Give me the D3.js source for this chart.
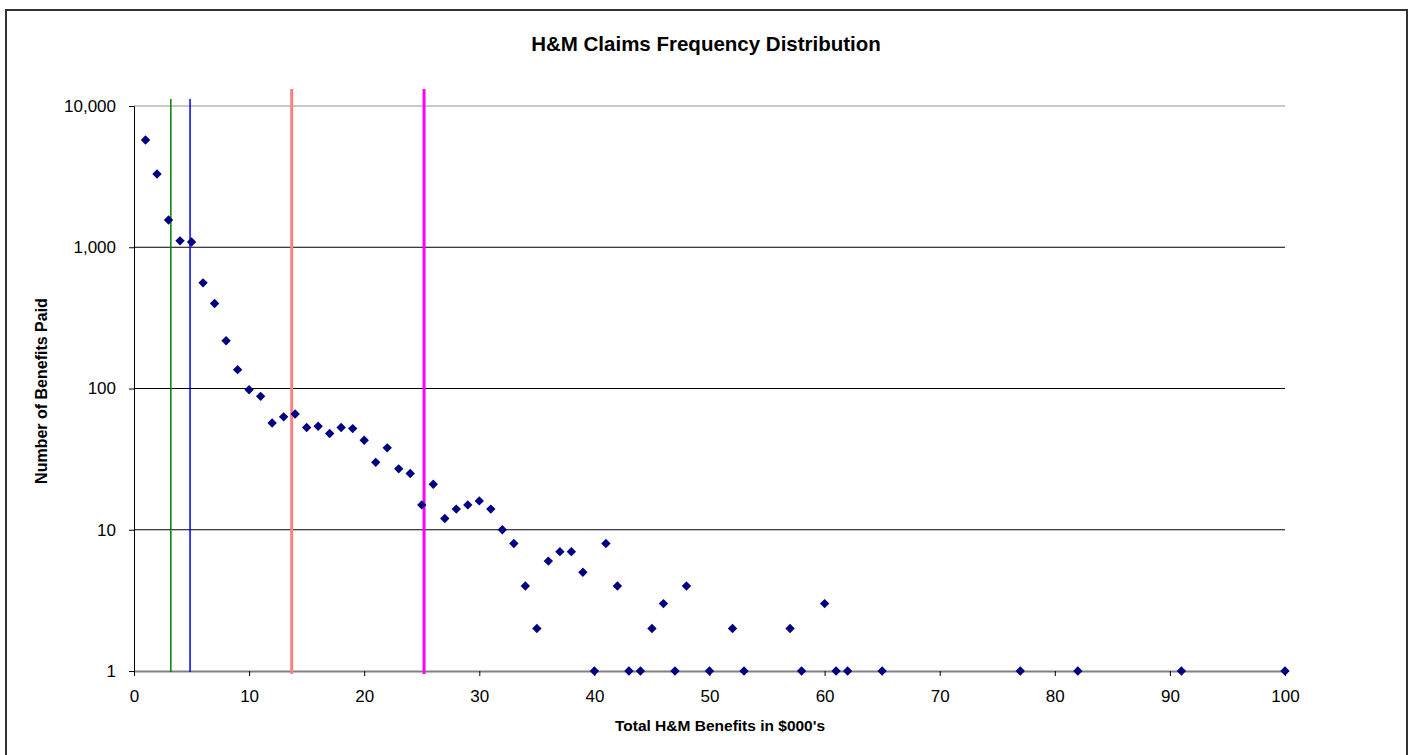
<!DOCTYPE html>
<html>
<head>
<meta charset="utf-8">
<script src="https://cdn.jsdelivr.net/npm/d3@7"></script>
<style>
  body { margin: 0; background: #fff; }
  svg text { font-family: "Liberation Sans", Arial, sans-serif; }
</style>
</head>
<body>
<div id="chart"></div>
<script>
// benefit band ($000's) and number of benefits paid
const benefitK = [1, 2, 3, 4, 5, 6, 7, 8, 9, 10,
    11, 12, 13, 14, 15, 16, 17, 18, 19, 20,
    21, 22, 23, 24, 25, 26, 27, 28, 29, 30,
    31, 32, 33, 34, 35, 36, 37, 38, 39, 40,
    41, 42, 43, 44, 45, 46, 47, 48, 50, 52,
    53, 57, 58, 60, 61, 62, 65, 77, 82, 91, 100];
const claimCounts = [5750, 3300, 1560, 1110, 1090, 560, 400, 218, 136, 98,
    88, 57, 63, 66, 53, 54, 48, 53, 52, 43,
    30, 38, 27, 25, 15, 21, 12, 14, 15, 16,
    14, 10, 8, 4, 2, 6, 7, 7, 5, 1,
    8, 4, 1, 1, 2, 3, 1, 4, 1, 2,
    1, 2, 1, 3, 1, 1, 1, 1, 1, 1, 1];

// vertical reference lines (x in $000's)
const refLines = [3.2, 4.87, 13.7, 25.2];
const refColors = ["#008000", "#0000ff", "#ff8080", "#ff00ff"];
const refWidths = [1.5, 1.5, 3, 3];
const refTops = [99, 99, 89, 89];

const yTicks = [1, 10, 100, 1000, 10000];
const xTicks = [0, 10, 20, 30, 40, 50, 60, 70, 80, 90, 100];

const width = 1412;
const height = 755;
const margin = { top: 106, right: 127, bottom: 84, left: 134 };

const svg = d3.select("#chart")
    .append("svg")
    .attr("width", width)
    .attr("height", height);

// outer chart border
svg.append("rect")
    .attr("x", 6)
    .attr("y", 10)
    .attr("width", 1401)
    .attr("height", 760)
    .attr("fill", "none")
    .attr("stroke", "#333")
    .attr("stroke-width", 2);

const x = d3.scaleLinear()
    .domain([0, 100])
    .range([margin.left, width - margin.right]);

const y = d3.scaleLog()
    .domain([1, 10000])
    .range([height - margin.bottom, margin.top]);

// gridlines
svg.append("g")
    .selectAll("line")
    .data(yTicks.filter(d => d > 1))
    .enter()
    .append("line")
    .attr("x1", x(0))
    .attr("x2", x(100))
    .attr("y1", d => y(d))
    .attr("y2", d => y(d))
    .attr("stroke", d => d === 10000 ? "#c8c8c8" : "#000")
    .attr("stroke-width", d => d === 10000 ? 2 : 1);

// y axis
const yAxis = svg.append("g")
    .attr("transform", `translate(${x(0)},0)`)
    .call(d3.axisLeft(y)
        .tickValues(yTicks)
        .tickFormat(d3.format(","))
        .tickSize(5)
        .tickPadding(13));
yAxis.selectAll("text").attr("font-size", 17).attr("fill", "#000");
yAxis.selectAll("line, path").attr("stroke", "#000");

// x axis
const xAxis = svg.append("g")
    .attr("transform", `translate(0,${y(1)})`)
    .call(d3.axisBottom(x)
        .tickValues(xTicks)
        .tickSize(5)
        .tickSizeOuter(0)
        .tickPadding(14));
xAxis.select(".domain").attr("stroke", "#808080").attr("stroke-width", 2);
xAxis.selectAll("line").attr("stroke", "#000");
xAxis.selectAll("text").attr("font-size", 17).attr("fill", "#000");

// reference lines
svg.append("g")
    .selectAll("line")
    .data(refLines)
    .enter()
    .append("line")
    .attr("x1", d => x(d))
    .attr("x2", d => x(d))
    .attr("y1", (d, i) => refTops[i])
    .attr("y2", (d, i) => y(1) + (refWidths[i] > 2 ? 3 : 1))
    .attr("stroke", (d, i) => refColors[i])
    .attr("stroke-width", (d, i) => refWidths[i]);

// points
const points = benefitK.map((b, i) => ({ b: b, n: claimCounts[i] }));
svg.append("g")
    .selectAll("path")
    .data(points)
    .enter()
    .append("path")
    .attr("d", d3.symbol(d3.symbolSquare, 44))
    .attr("transform", d => `translate(${x(d.b)},${y(d.n)}) rotate(45)`)
    .attr("fill", "#000080");

// titles
svg.append("text")
    .attr("x", 706)
    .attr("y", 51)
    .attr("text-anchor", "middle")
    .attr("font-size", 20.5)
    .attr("font-weight", "bold")
    .text("H&M Claims Frequency Distribution");

svg.append("text")
    .attr("x", 720)
    .attr("y", 731)
    .attr("text-anchor", "middle")
    .attr("font-size", 15.5)
    .attr("font-weight", "bold")
    .text("Total H&M Benefits in $000's");

svg.append("text")
    .attr("transform", "translate(47,391) rotate(-90)")
    .attr("text-anchor", "middle")
    .attr("font-size", 16)
    .attr("font-weight", "bold")
    .text("Number of Benefits Paid");
</script>
</body>
</html>
